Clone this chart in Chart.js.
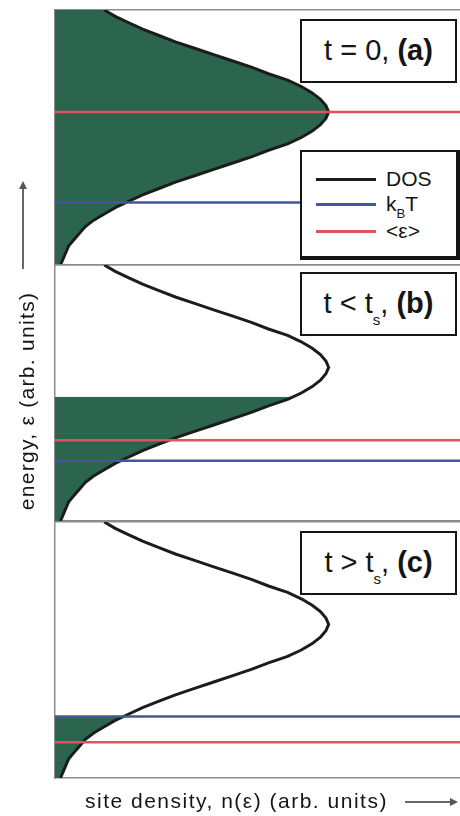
<!DOCTYPE html>
<html>
<head>
<meta charset="utf-8">
<script src="https://cdn.jsdelivr.net/npm/chart.js@4.4.1/dist/chart.umd.min.js"></script>
<style>
  body { margin: 0; background: #fff; }
  #fig { position: relative; width: 460px; height: 816px; overflow: hidden;
         font-family: "Liberation Sans", Arial, sans-serif; color: #151515; }
  canvas { position: absolute; left: 0; }
  .tag { position: absolute; left: 300px; width: 153px; height: 60px; border: 2px solid #151515;
         background: #fff; font-size: 29px; line-height: 58px; text-align: center; white-space: nowrap; }
  .tag b { font-weight: bold; }
  .tag sub { font-size: 15px; vertical-align: -12px; }
  #legend { position: absolute; left: 300px; top: 150px; width: 154px; height: 104px;
            border: 2px solid #151515; border-right-width: 4px; border-bottom-width: 4px; background: #fff; }
  .row { position: absolute; left: 14px; height: 24px; font-size: 21px; line-height: 24px; }
  .row i { position: absolute; left: 0; top: 11px; width: 60px; height: 3px; }
  .row span { position: absolute; left: 70px; top: 0; white-space: nowrap; }
  .row sub { font-size: 13px; vertical-align: -7px; }
  #ylab { position: absolute; left: 27px; top: 401px; transform: translate(-50%, -50%) rotate(-90deg);
          font-size: 21px; letter-spacing: 1.3px; white-space: nowrap; }
  #xlab { position: absolute; left: 85px; top: 789px; font-size: 21px; letter-spacing: 1.5px; white-space: nowrap; }
  .arrowline { position: absolute; background: #666; }
</style>
</head>
<body>
<div id="fig">
  <canvas id="panelA" width="460" height="268" style="top:0px"></canvas>
  <canvas id="panelB" width="460" height="262" style="top:262px"></canvas>
  <canvas id="panelC" width="460" height="262" style="top:519px"></canvas>

  <div class="tag" style="top:19px">t = 0, <b>(a)</b></div>
  <div class="tag" style="top:272px">t &lt; t<sub>s</sub>, <b>(b)</b></div>
  <div class="tag" style="top:531px">t &gt; t<sub>s</sub>, <b>(c)</b></div>

  <div id="legend">
    <div class="row" style="top:15px"><i style="background:#1c1c1c"></i><span>DOS</span></div>
    <div class="row" style="top:40px"><i style="background:#46559c"></i><span>k<sub>B</sub>T</span></div>
    <div class="row" style="top:67px"><i style="background:#e0525c"></i><span>&lt;ε&gt;</span></div>
  </div>

  <div id="ylab">energy, ε (arb. units)</div>
  <div class="arrowline" style="left:22px; top:186px; width:1.5px; height:83px"></div>
  <div style="position:absolute; left:19px; top:181px; width:0; height:0;
              border-left:4px solid transparent; border-right:4px solid transparent; border-bottom:8px solid #555"></div>

  <div id="xlab">site density, n(ε) (arb. units)</div>
  <div class="arrowline" style="left:405px; top:801px; width:46px; height:1.5px"></div>
  <div style="position:absolute; left:450px; top:798px; width:0; height:0;
              border-top:4px solid transparent; border-bottom:4px solid transparent; border-left:8px solid #555"></div>
</div>

<script>
// energy grid (arb. units) and density of states read along it
var energy = [0, 0.25, 0.5, 0.75, 1, 1.25, 1.5, 1.75, 2, 2.25, 2.5, 2.75, 3, 3.25, 3.5, 3.75,
              4, 4.25, 4.5, 4.75, 5, 5.25, 5.5, 5.75, 6, 6.25, 6.5, 6.75, 7, 7.25, 7.5, 7.75,
              8, 8.25, 8.5, 8.75, 9, 9.25, 9.5, 9.75, 10];
var dos = [0.02, 0.03, 0.04, 0.05, 0.07, 0.09, 0.11, 0.14, 0.18, 0.22, 0.27, 0.32, 0.38, 0.44, 0.51, 0.58,
           0.65, 0.72, 0.78, 0.85, 0.90, 0.94, 0.97, 0.99, 1.00, 0.99, 0.97, 0.94, 0.90, 0.85, 0.78, 0.72,
           0.65, 0.58, 0.51, 0.44, 0.38, 0.32, 0.27, 0.22, 0.18];

// panels (a), (b), (c)
var panelIds = ['panelA', 'panelB', 'panelC'];
var occupiedTop = [10, 4.85, 2.4];          // upper energy of the filled sites
var occupiedTopDensity = [0.18, 0.87, 0.25]; // DOS at that energy
var kTLevel = [2.45, 2.35, 2.4];
var meanLevel = [6.0, 3.15, 1.4];

var densityMax = 1.48;
var paddings = [{top: 10, bottom: 3}, {top: 3, bottom: 3}, {top: 3, bottom: 3}];

function levelLine(e) {
    return [{x: 0, y: e}, {x: densityMax, y: e}];
}

function buildPanel(i) {
    var curve = energy.map(function(e, k) { return {x: dos[k], y: e}; });
    var filled = [];
    energy.forEach(function(e, k) {
        if (e < occupiedTop[i]) filled.push({x: dos[k], y: e});
    });
    filled.push({x: occupiedTopDensity[i], y: occupiedTop[i]});

    var axisLine = {color: '#8c8c8c', width: 1.5};

    new Chart(document.getElementById(panelIds[i]), {
        type: 'line',
        data: {
            datasets: [
                {label: '<ε>', data: levelLine(meanLevel[i]), borderColor: '#e0525c', borderWidth: 2.5, fill: false},
                {label: 'kBT', data: levelLine(kTLevel[i]), borderColor: '#46559c', borderWidth: 2.5, fill: false},
                {label: 'DOS', data: curve, borderColor: '#1c1c1c', borderWidth: 3, fill: false},
                {label: 'occupied', data: filled, borderWidth: 0, backgroundColor: '#2b654e', fill: 'origin'}
            ]
        },
        options: {
            indexAxis: 'y',
            responsive: false,
            animation: false,
            layout: {padding: {left: 55, right: 0, top: paddings[i].top, bottom: paddings[i].bottom}},
            elements: {point: {radius: 0}, line: {tension: 0}},
            plugins: {legend: {display: false}, tooltip: {enabled: false}},
            scales: {
                x: {type: 'linear', position: 'bottom', min: 0, max: densityMax,
                    ticks: {display: false}, grid: {display: false, drawTicks: false}, border: axisLine},
                xTop: {type: 'linear', position: 'top', min: 0, max: densityMax,
                    ticks: {display: false}, grid: {display: false, drawTicks: false}, border: axisLine},
                y: {type: 'linear', position: 'left', min: 0, max: 10,
                    ticks: {display: false}, grid: {display: false, drawTicks: false}, border: axisLine}
            }
        }
    });
}

panelIds.forEach(function(id, i) {
    buildPanel(i);
});
</script>
</body>
</html>
